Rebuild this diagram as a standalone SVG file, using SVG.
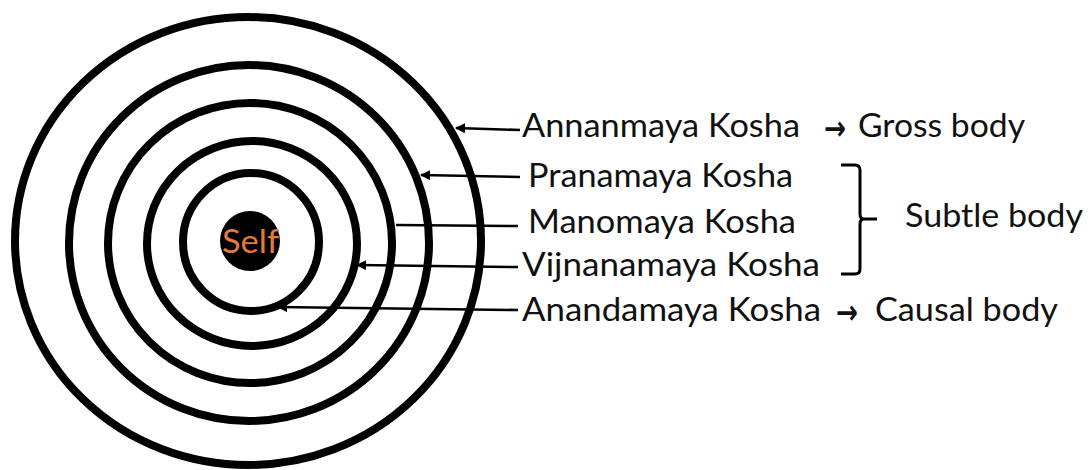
<svg xmlns="http://www.w3.org/2000/svg" width="1091" height="470" viewBox="0 0 1091 470">
<style>
.ring{fill:none;stroke:#000;stroke-width:8}
.lbl{font-family:Lato,"Liberation Sans",sans-serif;font-size:32px;fill:#111}
.arr{font-family:"Noto Sans","DejaVu Sans",sans-serif;font-size:34px;font-weight:600;fill:#111}
.conn{stroke:#000;stroke-width:2.5;fill:none}
</style>
<defs>
<marker id="ah" viewBox="0 0 10 10" refX="9" refY="5" markerWidth="4" markerHeight="4" orient="auto" markerUnits="strokeWidth">
<path d="M0,0 L10,5 L0,10 z" fill="#000"/>
</marker>
</defs>
<rect width="1091" height="470" fill="#fff"/>
<g id="rings">
<ellipse id="annanmaya-ring" class="ring" cx="248" cy="241" rx="233" ry="224"/>
<ellipse id="pranamaya-ring" class="ring" cx="249" cy="243" rx="180" ry="178"/>
<ellipse id="manomaya-ring" class="ring" cx="250" cy="243" rx="142" ry="140"/>
<ellipse id="vijnanamaya-ring" class="ring" cx="252" cy="243.5" rx="105" ry="102.5"/>
<ellipse id="anandamaya-ring" class="ring" cx="251" cy="242" rx="68" ry="69"/>
</g>
<g id="self">
<circle cx="250" cy="241" r="30" fill="#000"/>
<text x="222" y="253" font-family="Lato,'Liberation Sans',sans-serif" font-size="33" fill="#E07B39" textLength="57" lengthAdjust="spacingAndGlyphs">Self</text>
</g>
<g id="connectors">
<line class="conn" x1="520" y1="130" x2="456" y2="128" marker-end="url(#ah)"/>
<line class="conn" x1="520" y1="177" x2="421" y2="175" marker-end="url(#ah)"/>
<line class="conn" x1="518" y1="226" x2="396" y2="225"/>
<line class="conn" x1="518" y1="267" x2="357" y2="265" marker-end="url(#ah)"/>
<line class="conn" x1="518" y1="310" x2="278" y2="307" marker-end="url(#ah)"/>
</g>
<g id="annanmaya">
<text class="lbl" x="522" y="137" textLength="278" lengthAdjust="spacingAndGlyphs">Annanmaya Kosha</text>
<text class="arr" x="824" y="140" textLength="22" lengthAdjust="spacingAndGlyphs">→</text>
<text class="lbl" x="858" y="137" textLength="167" lengthAdjust="spacingAndGlyphs">Gross body</text>
</g>
<g id="pranamaya">
<text class="lbl" x="528" y="187" textLength="265" lengthAdjust="spacingAndGlyphs">Pranamaya Kosha</text>
</g>
<g id="manomaya">
<text class="lbl" x="528" y="233" textLength="268" lengthAdjust="spacingAndGlyphs">Manomaya Kosha</text>
</g>
<g id="vijnanamaya">
<text class="lbl" x="522" y="276" textLength="298" lengthAdjust="spacingAndGlyphs">Vijnanamaya Kosha</text>
</g>
<g id="anandamaya">
<text class="lbl" x="522" y="321" textLength="299" lengthAdjust="spacingAndGlyphs">Anandamaya Kosha</text>
<text class="arr" x="836" y="324" textLength="22" lengthAdjust="spacingAndGlyphs">→</text>
<text class="lbl" x="875" y="321" textLength="183" lengthAdjust="spacingAndGlyphs">Causal body</text>
</g>
<g id="subtle">
<path d="M841,165 L855,165 Q860,165 860,170 L860,214 Q860,219 864,219 L877,219 M864,219 Q860,219 860,224 L860,269 Q860,274 855,274 L841,274" fill="none" stroke="#000" stroke-width="3"/>
<text class="lbl" x="905" y="227" textLength="178" lengthAdjust="spacingAndGlyphs">Subtle body</text>
</g>
</svg>
